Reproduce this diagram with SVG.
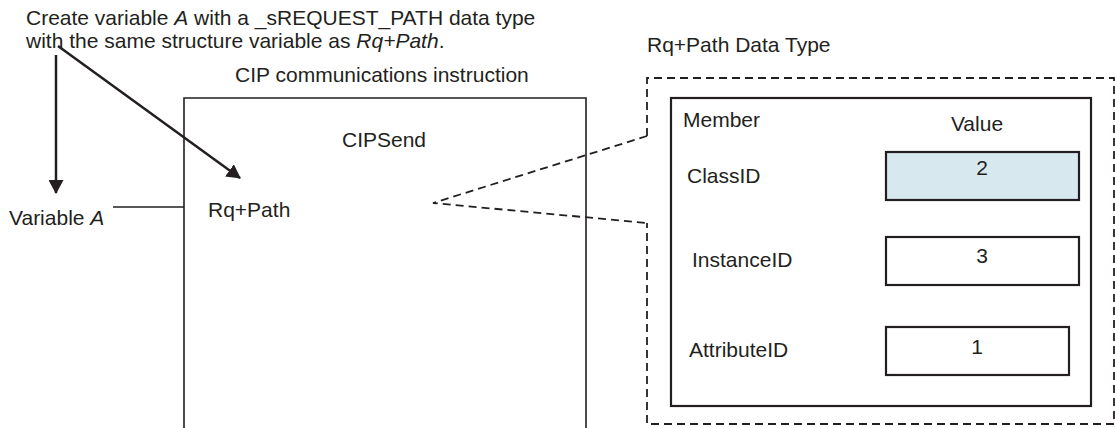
<svg xmlns="http://www.w3.org/2000/svg" width="1115" height="428" viewBox="0 0 1115 428">
<style>
text{font-family:"Liberation Sans",Arial,sans-serif;font-size:21px;fill:#231f20}
.i{font-style:italic}
.c{text-anchor:middle}
.solid{fill:none;stroke:#231f20;stroke-width:1.6}
.thick{fill:none;stroke:#231f20;stroke-width:2.2}
.dash{fill:none;stroke:#231f20;stroke-width:1.8;stroke-dasharray:8 5}
.arrow{fill:none;stroke:#231f20;stroke-width:2.5}
</style>
<defs>
<marker id="ah" viewBox="0 0 14 15" refX="13" refY="7.5" markerWidth="14" markerHeight="15" markerUnits="userSpaceOnUse" orient="auto">
<path d="M0,0 L14,7.5 L0,15 Z" fill="#231f20"/>
</marker>
</defs>
<g id="note">
<text x="26" y="25">Create variable <tspan class="i">A</tspan> with a _sREQUEST_PATH data type</text>
<text x="26" y="48">with the same structure variable as <tspan class="i">Rq+Path</tspan>.</text>
</g>
<g id="variableA">
<text x="9" y="225">Variable <tspan class="i">A</tspan></text>
</g>
<g id="cipsend">
<text x="235" y="82">CIP communications instruction</text>
<path class="solid" d="M184,440 V98 H586 V440"/>
<text x="342" y="147">CIPSend</text>
<text x="208" y="217">Rq+Path</text>
</g>
<g id="datatype">
<text x="647" y="52">Rq+Path Data Type</text>
<path class="dash" d="M647,136 V78 H1114 V424 H647 V223"/>
<rect class="thick" x="671" y="98" width="420" height="308"/>
<text x="683" y="127">Member</text>
<text class="c" x="977" y="131">Value</text>
</g>
<g id="classid">
<text x="687" y="183">ClassID</text>
<rect x="886" y="152" width="193" height="48" fill="#d8e8ef" stroke="#231f20" stroke-width="2.2"/>
<text class="c" x="982" y="175">2</text>
</g>
<g id="instanceid">
<text x="692" y="267">InstanceID</text>
<rect class="thick" x="886" y="237" width="193" height="48"/>
<text class="c" x="982" y="263">3</text>
</g>
<g id="attributeid">
<text x="689" y="357">AttributeID</text>
<rect class="thick" x="886" y="327" width="183" height="48"/>
<text class="c" x="977" y="354">1</text>
</g>
<g id="connectors">
<line class="arrow" x1="56" y1="55" x2="56" y2="193" marker-end="url(#ah)"/>
<line class="arrow" x1="58" y1="46" x2="240" y2="178" marker-end="url(#ah)"/>
<line class="solid" x1="113" y1="207" x2="184" y2="207"/>
<polyline class="dash" points="647,136 433,203 647,223"/>
</g>
</svg>
